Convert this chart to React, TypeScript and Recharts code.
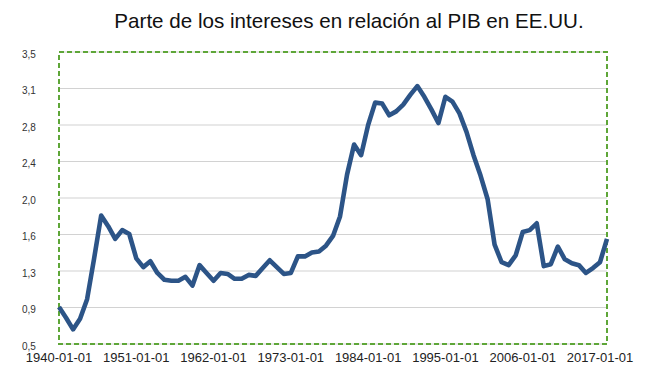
import { CartesianGrid, Line, LineChart, ReferenceArea, XAxis, YAxis } from "recharts";

const years = [
  1940, 1941, 1942, 1943, 1944, 1945, 1946, 1947, 1948, 1949,
  1950, 1951, 1952, 1953, 1954, 1955, 1956, 1957, 1958, 1959,
  1960, 1961, 1962, 1963, 1964, 1965, 1966, 1967, 1968, 1969,
  1970, 1971, 1972, 1973, 1974, 1975, 1976, 1977, 1978, 1979,
  1980, 1981, 1982, 1983, 1984, 1985, 1986, 1987, 1988, 1989,
  1990, 1991, 1992, 1993, 1994, 1995, 1996, 1997, 1998, 1999,
  2000, 2001, 2002, 2003, 2004, 2005, 2006, 2007, 2008, 2009,
  2010, 2011, 2012, 2013, 2014, 2015, 2016, 2017, 2018,
];

// share of interest in GDP (%)
const share = [
  0.88, 0.77, 0.65, 0.76, 0.96, 1.38, 1.82, 1.71, 1.58, 1.67,
  1.63, 1.38, 1.29, 1.35, 1.23, 1.16, 1.15, 1.15, 1.19, 1.1,
  1.31, 1.23, 1.15, 1.23, 1.22, 1.17, 1.17, 1.21, 1.2, 1.28,
  1.36, 1.29, 1.22, 1.23, 1.4, 1.4, 1.44, 1.45, 1.51, 1.61,
  1.81, 2.24, 2.55, 2.44, 2.75, 2.98, 2.97, 2.85, 2.89, 2.96,
  3.06, 3.15, 3.04, 2.91, 2.77, 3.04, 2.99, 2.87, 2.68, 2.44,
  2.23, 1.99, 1.52, 1.34, 1.31, 1.41, 1.65, 1.67, 1.74, 1.3,
  1.32, 1.5, 1.37, 1.33, 1.31, 1.23, 1.28, 1.34, 1.58,
];

const yTicks = [0.5, 0.875, 1.25, 1.625, 2.0, 2.375, 2.75, 3.125, 3.5];
const yTickLabels = ["0,5", "0,9", "1,3", "1,6", "2,0", "2,4", "2,8", "3,1", "3,5"];

const data = years.map((y, i) => ({ date: `${y}-01-01`, value: share[i] }));

const font = "'Liberation Sans', Arial, Helvetica, sans-serif";

const YTick = (props: any) => {
  const { y, payload } = props;
  const idx = yTicks.indexOf(payload.value);
  return (
    <text x={22} y={y} dy={5.5} fontSize={10} fill="#333" fontFamily={font}>
      {yTickLabels[idx]}
    </text>
  );
};

const XTick = (props: any) => {
  const { x, y, payload } = props;
  return (
    <text x={x} y={y} dy={10} textAnchor="middle" fontSize={13} fill="#222" fontFamily={font}>
      {payload.value}
    </text>
  );
};

const App = () => {
  return (
    <div style={{ position: "absolute", left: 0, top: 0, width: 652, height: 382, background: "#fff" }}>
      <div
        style={{
          position: "absolute",
          top: 9,
          left: 0,
          width: 652,
          paddingLeft: 46,
          boxSizing: "border-box",
          textAlign: "center",
          fontFamily: font,
          fontSize: 20.6,
          color: "#111",
        }}
      >
        Parte de los intereses en relación al PIB en EE.UU.
      </div>
      <LineChart width={652} height={382} data={data} margin={{ top: 52, right: 45, bottom: 8, left: 0 }}>
        <CartesianGrid vertical={false} stroke="#d2d2d2" strokeWidth={1.2} />
        <XAxis
          dataKey="date"
          interval={10}
          axisLine={false}
          tickLine={false}
          height={30}
          tick={<XTick />}
        />
        <YAxis
          domain={[0.5, 3.5]}
          ticks={yTicks}
          width={59}
          axisLine={false}
          tickLine={false}
          tick={<YTick />}
        />
        <ReferenceArea
          y1={0.5}
          y2={3.5}
          fill="none"
          stroke="#5ea638"
          strokeWidth={2}
          strokeDasharray="5 3"
        />
        <Line
          type="linear"
          dataKey="value"
          stroke="#2c5487"
          strokeWidth={4.6}
          strokeLinejoin="round"
          dot={false}
          isAnimationActive={false}
        />
      </LineChart>
    </div>
  );
};

export default App;
